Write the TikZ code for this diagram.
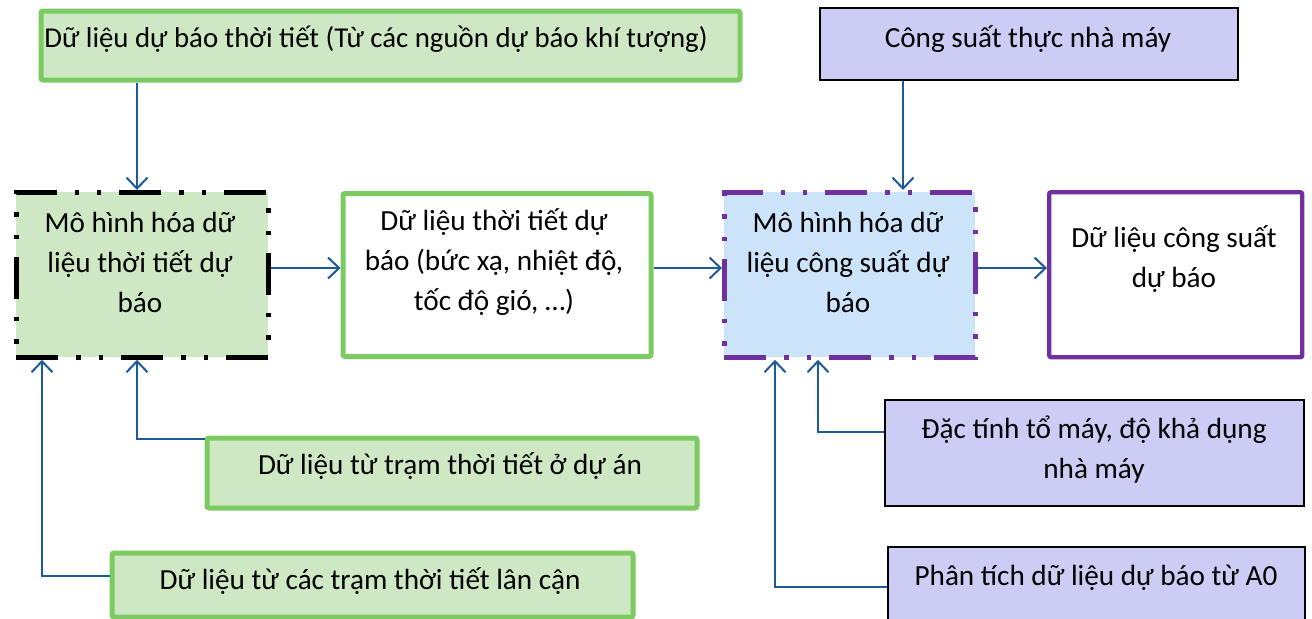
\documentclass[tikz,border=0pt]{standalone}
\usepackage{fontspec}
\setmainfont{Carlito}
\usetikzlibrary{arrows.meta}
\definecolor{gborder}{HTML}{7CCB62}
\definecolor{gfill}{HTML}{CDE8C3}
\definecolor{pfill}{HTML}{CDCCF5}
\definecolor{bfill}{HTML}{CCE4F9}
\definecolor{pborder}{HTML}{7030A0}
\definecolor{arrblue}{HTML}{1C5A9C}
\tikzset{
  x=0.5pt, y=-0.5pt,
  box/.style={draw, rectangle, inner sep=0pt, anchor=north west},
  greenbox/.style={box, draw=gborder, fill=gfill, line width=2.5pt, rounded corners=1pt},
  whitegreen/.style={box, draw=gborder, fill=white, line width=2.5pt, rounded corners=1pt},
  purplebox/.style={box, draw=black, fill=pfill, line width=1.1pt},
  whitepurple/.style={box, draw=pborder, fill=white, line width=2.2pt, rounded corners=1pt},
  dddash/.style={dash pattern=on 21pt off 9pt on 2.2pt off 9pt on 2.2pt off 9pt},
  modelA/.style={box, draw=black, fill=gfill, line width=2.4pt, dddash},
  modelC/.style={box, draw=pborder, fill=bfill, line width=2.4pt, dddash},
  txt/.style={align=center, font=\fontsize{14.6}{20}\selectfont, inner sep=0pt},
  arr/.style={draw=arrblue, line width=1pt, -{Straight Barb[length=5.5pt,width=10.5pt,line width=1pt]}}
}
\begin{document}
\begin{tikzpicture}
\useasboundingbox (0,0) rectangle (1312,618);
\clip (0,0) rectangle (1312,618);
% boxes
\node[greenbox, minimum width=349.5pt, minimum height=34.5pt] (TG) at (38.5,8.5) {};
\node[purplebox, minimum width=209pt, minimum height=36pt] (TP) at (819,7) {};
\node[modelA, minimum width=126pt, minimum height=82.5pt] (A) at (14,190) {};
\node[whitegreen, minimum width=154pt, minimum height=81.5pt] (B) at (340.5,191) {};
\node[modelC, minimum width=125.5pt, minimum height=82.5pt] (C) at (722,190) {};
\node[whitepurple, minimum width=126.5pt, minimum height=82.5pt] (D) at (1047,190) {};
\node[greenbox, minimum width=245pt, minimum height=35pt] (E) at (204.5,435.5) {};
\node[greenbox, minimum width=260.5pt, minimum height=32pt] (F) at (109.5,550.5) {};
\node[purplebox, minimum width=209.5pt, minimum height=53pt] (G) at (884,399) {};
\node[purplebox, minimum width=208.5pt, minimum height=45pt] (H) at (887,546) {};
% texts
\node[txt, font=\fontsize{14.4}{20}\selectfont] (TGt) at (376,39) {Dữ liệu dự báo thời tiết (Từ các nguồn dự báo khí tượng)};
\node[txt] (TPt) at (1028,39) {Công suất thực nhà máy};
\node[txt] (At) at (140,262) {Mô hình hóa dữ\\liệu thời tiết dự\\báo};
\node[txt] (Bt) at (494,262) {Dữ liệu thời tiết dự\\báo (bức xạ, nhiệt độ,\\tốc độ gió, …)};
\node[txt] (Ct) at (848,262) {Mô hình hóa dữ\\liệu công suất dự\\báo};
\node[txt] (Dt) at (1174,259) {Dữ liệu công suất\\dự báo};
\node[txt] (Et) at (450,466) {Dữ liệu từ trạm thời tiết ở dự án};
\node[txt] (Ft) at (370,581) {Dữ liệu từ các trạm thời tiết lân cận};
\node[txt] (Gt) at (1094,450) {Đặc tính tổ máy, độ khả dụng\\nhà máy};
\node[txt] (Ht) at (1096,578) {Phân tích dữ liệu dự báo từ A0};
% helper coordinates
\coordinate (x137) at (137,0);
\coordinate (x42) at (42,0);
\coordinate (x903) at (903,0);
\coordinate (x818) at (818,0);
\coordinate (x775) at (775,0);
\coordinate (ymid) at (0,268);
\coordinate (yE) at (0,439);
\coordinate (yF) at (0,576);
\coordinate (yG) at (0,432);
\coordinate (yH) at (0,587);
% connectors
\draw[arr] (TG.south -| x137) -- (A.north -| x137);
\draw[arr] (TP.south -| x903) -- (C.north -| x903);
\draw[arr] (A.east |- ymid) -- (B.west |- ymid);
\draw[arr] (B.east |- ymid) -- (C.west |- ymid);
\draw[arr] (C.east |- ymid) -- (D.west |- ymid);
\draw[arr] (E.west |- yE) -| (A.south -| x137);
\draw[arr] (F.west |- yF) -| (A.south -| x42);
\draw[arr] (G.west |- yG) -| (C.south -| x818);
\draw[arr] (H.west |- yH) -| (C.south -| x775);
\end{tikzpicture}
\end{document}
